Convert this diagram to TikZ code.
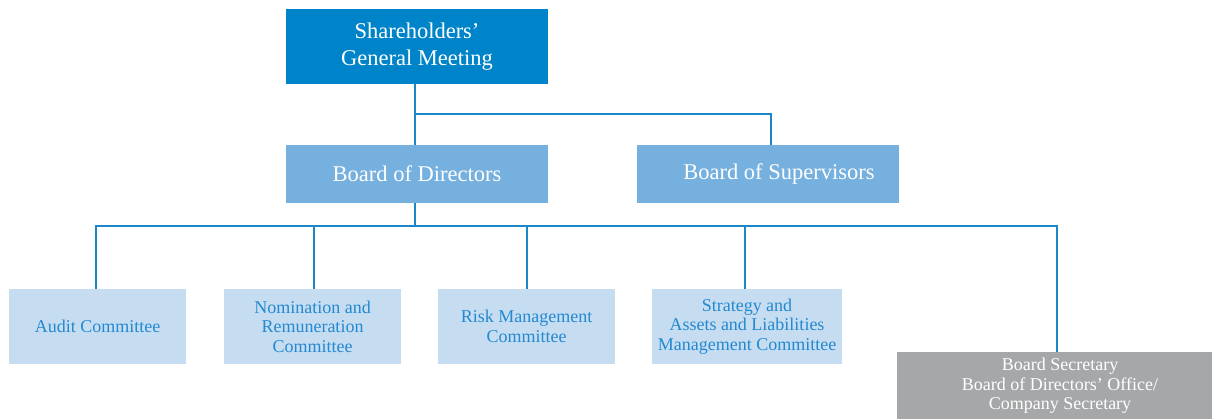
\documentclass[tikz,border=0pt]{standalone}
\usepackage{fontspec}
\setmainfont{Liberation Serif}
\definecolor{cdark}{HTML}{0084C9}
\definecolor{cmid}{HTML}{76B0DF}
\definecolor{clight}{HTML}{C6DDF1}
\definecolor{cgray}{HTML}{A6A7A9}
\definecolor{cline}{HTML}{1B86C8}
\definecolor{ctext}{HTML}{2389D0}
\tikzset{
  orgbox/.style={rectangle, inner sep=0pt, align=center, anchor=center},
  topbox/.style={orgbox, fill=cdark, text=white, minimum width=262pt, minimum height=75pt,
     font=\fontsize{22.5}{27}\selectfont},
  midbox/.style={orgbox, fill=cmid, text=white, minimum width=262pt, minimum height=58pt,
     font=\fontsize{22.5}{27}\selectfont},
  combox/.style={orgbox, fill=clight, text=ctext, minimum height=75pt,
     font=\fontsize{18}{19.5}\selectfont},
  secbox/.style={orgbox, fill=cgray, text=white, minimum width=326pt, minimum height=68pt,
     font=\fontsize{18}{19.5}\selectfont},
  conn/.style={draw=cline, line width=1.5pt}
}
\begin{document}
\begin{tikzpicture}[x=1pt,y=-1pt]
\useasboundingbox (0,0) rectangle (1212,418);
\node[topbox] (sgm) at (417,46.5) {Shareholders'\\General Meeting};
\node[midbox] (bod) at (417,174) {Board of Directors};
\node[midbox] (bos) at (768,174) {\hspace*{22pt}Board of Supervisors};
\node[combox, minimum width=177pt] (aud) at (97.5,326.5) {Audit Committee};
\node[combox, minimum width=177pt] (nom) at (312.5,326.5) {Nomination and\\Remuneration\\Committee};
\node[combox, minimum width=177pt] (risk) at (526.5,326.5) {Risk Management\\Committee};
\node[combox, minimum width=190pt] (strat) at (747,326.5) {Strategy and\\Assets and Liabilities\\Management Committee};
\node[secbox] (sec) at (1060,386) {Board Secretary\\Board of Directors' Office/\\Company Secretary};
\coordinate (j1) at (415,114);
\coordinate (j2) at (415,226);
\draw[conn] (sgm.south -| j1) -- (j1) -| ([xshift=3pt]bos.north);
\draw[conn] (j1) -- (bod.north -| j1);
\draw[conn] (bod.south -| j2) -- (j2);
\draw[conn] (j2) -| ([xshift=-1.5pt]aud.north);
\draw[conn] (j2) -| ([xshift=1.5pt]nom.north);
\draw[conn] (j2) -| ([xshift=0.5pt]risk.north);
\draw[conn] (j2) -| ([xshift=-2pt]strat.north);
\draw[conn] (j2) -| ([xshift=-3pt]sec.north);
\end{tikzpicture}
\end{document}
